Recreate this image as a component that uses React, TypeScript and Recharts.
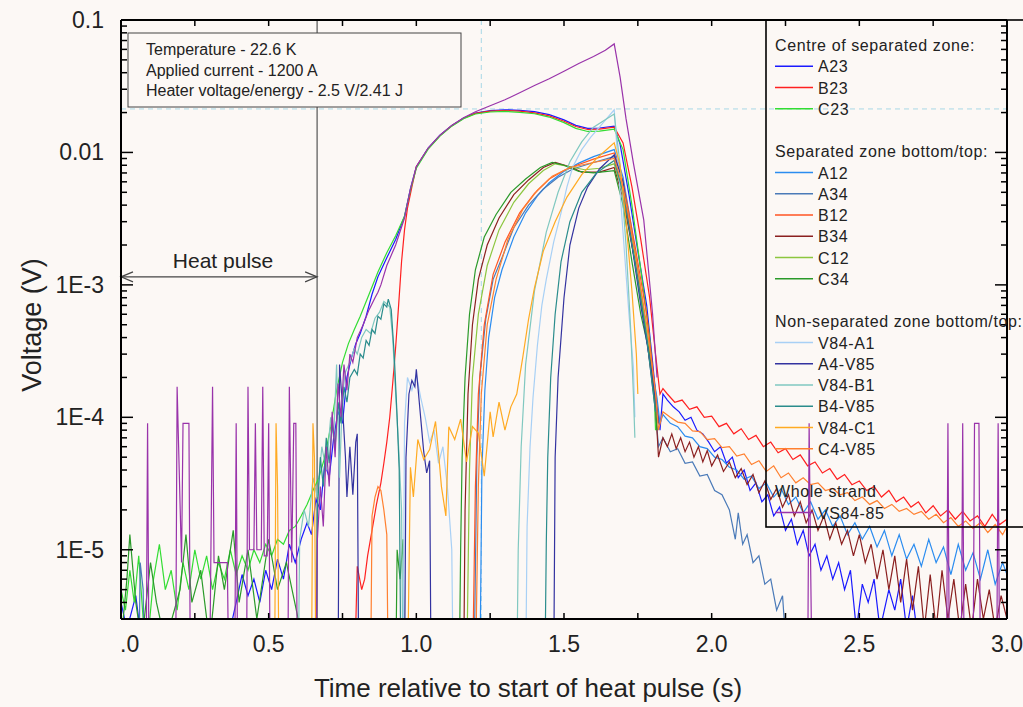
import React from 'react';
import { LineChart, Line, XAxis, YAxis, ReferenceLine } from 'recharts';

type P = [number, number | null];

// ---------- axes / annotations ----------
const X_DOMAIN: [number, number] = [0, 3];
const X_TICKS = [0, 0.25, 0.5, 0.75, 1, 1.25, 1.5, 1.75, 2, 2.25, 2.5, 2.75, 3];
const Y_DOMAIN: [number, number] = [3e-6, 0.1];
const Y_MAJOR = [1e-5, 1e-4, 1e-3, 1e-2, 1e-1];
const Y_MAJOR_LABELS = ['1E-5', '1E-4', '1E-3', '0.01', '0.1'];
const HEAT_PULSE_END = 0.664;
const HEAT_PULSE_LEVEL = 0.00115;
const GUIDE_LEVEL = 0.0213;
const GUIDE_TIME = 1.22;
const INFO_LINES = ['Temperature - 22.6 K', 'Applied current - 1200 A', 'Heater voltage/energy - 2.5 V/2.41 J'];
const X_TITLE = 'Time relative to start of heat pulse (s)';
const Y_TITLE = 'Voltage (V)';

// ---------- series (time s, voltage V; null = break in trace) ----------
const A23: P[] = [
  [0.0, 4e-6], [0.02, 2.5e-6], [0.05, 4.5e-6], [0.07, 2e-6], [0.36, 2e-6], [0.39, 4e-6], [0.41, 6.5e-6], [0.43, 4.5e-6],
  [0.45, 6e-6], [0.47, 4e-6], [0.49, 7e-6], [0.51, 5e-6], [0.53, 8.5e-6], [0.55, 6e-6], [0.57, 1.1e-5], [0.59, 8e-6],
  [0.61, 1.2e-5], [0.63, 1.6e-5], [0.645, 1.3e-5], [0.66, 2.4e-5], [0.675, 2e-5], [0.69, 4.5e-5], [0.705, 3.5e-5],
  [0.72, 7e-5], [0.735, 1.1e-4], [0.75, 9e-5], [0.765, 2e-4], [0.78, 2.8e-4], [0.795, 3.6e-4], [0.81, 4.3e-4],
  [0.83, 5.8e-4], [0.85, 8.5e-4], [0.87, 1.15e-3], [0.9, 1.6e-3], [0.93, 2.2e-3], [0.96, 3.3e-3], [0.98, 5.3e-3],
  [1.0, 7.8e-3], [1.04, 0.0108], [1.08, 0.0135], [1.12, 0.016], [1.16, 0.0182], [1.2, 0.0198], [1.25, 0.0207],
  [1.3, 0.021], [1.35, 0.0208], [1.4, 0.0203], [1.45, 0.0193], [1.5, 0.0176], [1.54, 0.016], [1.58, 0.0152],
  [1.62, 0.0153], [1.67, 0.0158], [1.69, 0.0115], [1.72, 4.8e-3], [1.75, 1.8e-3], [1.78, 7e-4], [1.8, 2.6e-4],
  [1.815, 1.2e-4], [1.825, 8e-5], [1.835, 1.5e-4], [1.85, 1.35e-4], [1.87, 1.2e-4], [1.89, 1.1e-4], [1.91, 9.5e-5],
  [1.93, 1e-4], [1.95, 8e-5], [1.97, 7.5e-5], [1.99, 6.5e-5], [2.01, 5.5e-5], [2.03, 6e-5], [2.05, 4.5e-5],
  [2.07, 5e-5], [2.09, 3.5e-5], [2.11, 4e-5], [2.13, 2.8e-5], [2.15, 3.2e-5], [2.17, 2.3e-5], [2.19, 2.6e-5],
  [2.21, 1.8e-5], [2.23, 2.1e-5], [2.25, 1.4e-5], [2.27, 1.7e-5], [2.29, 1.1e-5], [2.31, 1.4e-5], [2.33, 9e-6],
  [2.35, 1.1e-5], [2.37, 7e-6], [2.39, 9e-6], [2.41, 6e-6], [2.43, 8e-6], [2.45, 5e-6], [2.47, 7e-6], [2.49, 2.5e-6],
  [2.51, 5.5e-6], [2.53, 4e-6], [2.55, 6e-6], [2.57, 2.5e-6], [2.6, 5e-6], [2.62, 3.5e-6], [2.64, 6e-6],
  [2.66, 2.5e-6], [2.68, 4.5e-6], [2.7, 2e-6], [2.74, 2e-6],
];

const B23: P[] = [
  [0.79, 1e-6], [0.8, 7.5e-6], [0.815, 5e-6], [0.825, 6e-6], [0.835, 9e-6], [0.85, 1.4e-5], [0.865, 2.2e-5],
  [0.88, 3.2e-5], [0.89, 4.5e-5], [0.9, 6.5e-5], [0.91, 1e-4], [0.92, 1.8e-4], [0.93, 3.4e-4], [0.94, 7e-4],
  [0.95, 1.5e-3], [0.96, 2.6e-3], [0.97, 3.8e-3], [0.985, 5.5e-3], [1.0, 7.8e-3], [1.04, 0.0107], [1.08, 0.0134],
  [1.12, 0.0159], [1.16, 0.0181], [1.2, 0.0197], [1.25, 0.0205], [1.3, 0.0207], [1.35, 0.0205], [1.4, 0.0199],
  [1.45, 0.0189], [1.5, 0.0172], [1.54, 0.0157], [1.58, 0.0149], [1.62, 0.015], [1.67, 0.0155], [1.7, 0.0118],
  [1.73, 5.5e-3], [1.76, 2.2e-3], [1.79, 8e-4], [1.81, 3e-4], [1.825, 1.5e-4], [1.835, 1.65e-4], [1.85, 1.5e-4],
  [1.875, 1.3e-4], [1.9, 1.35e-4], [1.925, 1.15e-4], [1.95, 1.2e-4], [1.975, 1e-4], [2.0, 1.02e-4], [2.025, 8.5e-5],
  [2.05, 9e-5], [2.075, 7.5e-5], [2.1, 8.2e-5], [2.125, 6.8e-5], [2.15, 7.3e-5], [2.175, 6e-5], [2.2, 6.5e-5],
  [2.225, 5.4e-5], [2.25, 5.8e-5], [2.275, 4.8e-5], [2.3, 5.2e-5], [2.325, 4.3e-5], [2.35, 4.6e-5], [2.375, 3.8e-5],
  [2.4, 4.1e-5], [2.425, 3.4e-5], [2.45, 3.7e-5], [2.475, 3.1e-5], [2.5, 3.3e-5], [2.525, 2.8e-5], [2.55, 3e-5],
  [2.575, 2.5e-5], [2.6, 2.8e-5], [2.625, 2.3e-5], [2.65, 2.5e-5], [2.675, 2.1e-5], [2.7, 2.3e-5], [2.725, 1.9e-5],
  [2.75, 2.15e-5], [2.775, 1.8e-5], [2.8, 2e-5], [2.825, 1.7e-5], [2.85, 1.95e-5], [2.875, 1.65e-5], [2.9, 1.8e-5],
  [2.925, 1.5e-5], [2.95, 1.85e-5], [2.975, 1.55e-5], [3.0, 1.7e-5],
];

const C23: P[] = [
  [0.0, 5e-6], [0.015, 3.5e-6], [0.03, 7e-6], [0.045, 4e-6], [0.06, 9e-6], [0.075, 3e-6], [0.09, 2e-6], [0.11, 6e-6],
  [0.13, 1.1e-5], [0.15, 5e-6], [0.17, 7e-6], [0.19, 3.5e-6], [0.21, 8e-6], [0.23, 5e-6], [0.25, 1e-5], [0.27, 6e-6],
  [0.29, 9e-6], [0.31, 5e-6], [0.33, 8e-6], [0.35, 6e-6], [0.37, 1e-5], [0.39, 6.5e-6], [0.41, 9e-6], [0.43, 7e-6],
  [0.45, 1e-5], [0.47, 8e-6], [0.49, 1.1e-5], [0.51, 9e-6], [0.53, 1.2e-5], [0.55, 1.1e-5], [0.57, 1.4e-5],
  [0.59, 1.5e-5], [0.61, 1.8e-5], [0.63, 2.2e-5], [0.65, 2.8e-5], [0.67, 3.5e-5], [0.69, 5e-5], [0.71, 8.5e-5],
  [0.73, 1.6e-4], [0.75, 2.6e-4], [0.77, 3.6e-4], [0.79, 4.6e-4], [0.81, 5.8e-4], [0.84, 8.5e-4], [0.87, 1.25e-3],
  [0.9, 1.75e-3], [0.93, 2.35e-3], [0.96, 3.3e-3], [0.98, 5.2e-3], [1.0, 7.6e-3], [1.04, 0.0106], [1.08, 0.0133],
  [1.12, 0.0158], [1.16, 0.018], [1.2, 0.0195], [1.25, 0.0202], [1.3, 0.0204], [1.35, 0.0201], [1.4, 0.0196],
  [1.45, 0.0185], [1.5, 0.0168], [1.54, 0.0152], [1.58, 0.0144], [1.62, 0.0145], [1.67, 0.015], [1.7, 0.0105],
  [1.73, 4e-3], [1.76, 1.3e-3], [1.79, 4e-4], [1.805, 1.6e-4], [1.81, 8e-5],
];

const A12: P[] = [
  [1.215, 1e-6], [1.222, 4e-5], [1.232, 1.6e-4], [1.245, 4e-4], [1.265, 8e-4], [1.29, 1.3e-3], [1.33, 2.3e-3],
  [1.37, 3.5e-3], [1.41, 4.7e-3], [1.45, 5.9e-3], [1.5, 7.2e-3], [1.55, 8.3e-3], [1.6, 9.3e-3], [1.67, 0.0105],
  [1.7, 6.5e-3], [1.73, 2.6e-3], [1.76, 9e-4], [1.79, 3e-4], [1.815, 1.4e-4], [1.825, 9e-5], [1.835, 1.05e-4],
  [1.86, 9e-5], [1.885, 8.5e-5], [1.91, 7.2e-5], [1.935, 7e-5], [1.96, 6e-5], [1.985, 5.8e-5], [2.01, 5e-5],
  [2.035, 4.8e-5], [2.06, 4.2e-5], [2.085, 4e-5], [2.11, 3.4e-5], [2.135, 3.6e-5], [2.16, 2.9e-5], [2.185, 3.2e-5],
  [2.21, 2.5e-5], [2.235, 2.9e-5], [2.26, 2.2e-5], [2.285, 2.5e-5], [2.31, 1.9e-5], [2.335, 2.3e-5], [2.36, 1.7e-5],
  [2.385, 2e-5], [2.41, 1.5e-5], [2.435, 1.8e-5], [2.46, 1.3e-5], [2.485, 1.6e-5], [2.51, 1.2e-5], [2.535, 1.5e-5],
  [2.56, 1.05e-5], [2.585, 1.4e-5], [2.61, 9e-6], [2.635, 1.3e-5], [2.66, 8.5e-6], [2.685, 1.1e-5], [2.71, 7.5e-6],
  [2.735, 1.2e-5], [2.76, 8e-6], [2.785, 1.05e-5], [2.81, 6.5e-6], [2.835, 1.1e-5], [2.86, 7e-6], [2.885, 9.5e-6],
  [2.91, 6e-6], [2.935, 1e-5], [2.96, 5.5e-6], [2.985, 8e-6], [3.0, 6.5e-6],
];

const A34: P[] = [
  [0.0, 1e-6], [0.06, 1e-6], [0.065, 8e-6], [0.075, 5e-6], [0.08, 1e-6], [1.195, 1e-6], [1.205, 5e-5], [1.215, 2e-4],
  [1.235, 5.5e-4], [1.26, 1.1e-3], [1.29, 1.6e-3], [1.33, 2.7e-3], [1.38, 4e-3], [1.43, 5.3e-3], [1.48, 6.5e-3],
  [1.53, 7.5e-3], [1.6, 8.4e-3], [1.67, 9.3e-3], [1.7, 5e-3], [1.74, 1.5e-3], [1.78, 4e-4], [1.81, 1.1e-4],
  [1.82, 6e-5], [1.835, 7e-5], [1.86, 5.5e-5], [1.885, 5.8e-5], [1.91, 4.5e-5], [1.935, 4.6e-5], [1.96, 3.6e-5],
  [1.985, 3.7e-5], [2.01, 2.8e-5], [2.035, 2.6e-5], [2.06, 2e-5], [2.08, 1.2e-5], [2.09, 1.9e-5], [2.105, 1.1e-5],
  [2.12, 1.3e-5], [2.14, 8e-6], [2.16, 9e-6], [2.18, 5.5e-6], [2.2, 6e-6], [2.22, 3.5e-6], [2.24, 4.5e-6], [2.26, 1e-6],
];

const B12: P[] = [
  [1.19, 1e-6], [1.2, 3e-5], [1.21, 1.5e-4], [1.23, 5e-4], [1.26, 1.2e-3], [1.3, 2.1e-3], [1.35, 3.5e-3],
  [1.4, 4.9e-3], [1.45, 6.3e-3], [1.5, 7.3e-3], [1.55, 8.1e-3], [1.6, 8.9e-3], [1.67, 9.9e-3], [1.7, 6e-3],
  [1.74, 2e-3], [1.78, 6e-4], [1.81, 1.5e-4], [1.82, 9e-5],
];

const B34: P[] = [
  [1.16, 1e-6], [1.165, 2e-5], [1.175, 1.5e-4], [1.19, 5e-4], [1.21, 1.1e-3], [1.24, 2e-3], [1.28, 3.2e-3],
  [1.33, 4.8e-3], [1.38, 6.2e-3], [1.43, 7.7e-3], [1.47, 8.4e-3], [1.52, 7.8e-3], [1.56, 7.1e-3], [1.62, 7.1e-3],
  [1.67, 7.7e-3], [1.7, 4.5e-3], [1.74, 1.5e-3], [1.78, 4e-4], [1.81, 1.2e-4], [1.82, 5e-5], [1.835, 7e-5],
  [1.85, 6e-5], [1.865, 7.5e-5], [1.88, 5.8e-5], [1.895, 7e-5], [1.91, 5.5e-5], [1.925, 6.5e-5], [1.94, 5e-5],
  [1.955, 6e-5], [1.97, 4.6e-5], [1.985, 5.6e-5], [2.0, 4.3e-5], [2.02, 5.2e-5], [2.04, 3.9e-5], [2.06, 4.6e-5],
  [2.08, 3.5e-5], [2.1, 4.1e-5], [2.12, 3.1e-5], [2.14, 3.7e-5], [2.16, 2.7e-5], [2.18, 3.3e-5], [2.2, 2.4e-5],
  [2.22, 2.9e-5], [2.24, 2.1e-5], [2.26, 2.6e-5], [2.28, 1.8e-5], [2.3, 2.3e-5], [2.32, 1.6e-5], [2.34, 2e-5],
  [2.36, 1.4e-5], [2.38, 1.8e-5], [2.4, 1.2e-5], [2.42, 1.6e-5], [2.44, 1.1e-5], [2.46, 1.4e-5], [2.48, 9e-6],
  [2.5, 1.3e-5], [2.52, 8e-6], [2.54, 1.1e-5], [2.56, 6e-6], [2.58, 1e-5], [2.6, 5e-6], [2.62, 9e-6], [2.64, 4e-6],
  [2.66, 8.5e-6], [2.68, 3.5e-6], [2.7, 7.5e-6], [2.72, 2.5e-6], [2.74, 6.5e-6], [2.76, 2.5e-6], [2.78, 7e-6],
  [2.8, 3e-6], [2.82, 6e-6], [2.84, 2.5e-6], [2.86, 5.5e-6], [2.88, 2.5e-6], [2.9, 6e-6], [2.92, 3e-6],
  [2.94, 5e-6], [2.96, 2.5e-6], [2.98, 4.5e-6], [3.0, 3e-6],
];

const C12: P[] = [
  [1.17, 1e-6], [1.18, 4e-5], [1.19, 2e-4], [1.21, 6e-4], [1.24, 1.4e-3], [1.28, 2.6e-3], [1.33, 4.2e-3],
  [1.38, 5.8e-3], [1.43, 7.3e-3], [1.47, 8.2e-3], [1.52, 7.8e-3], [1.57, 7.4e-3], [1.62, 7.6e-3], [1.67, 8.2e-3],
  [1.71, 4e-3], [1.75, 1.3e-3], [1.79, 3e-4], [1.815, 9e-5],
];

const C34: P[] = [
  [0.0, 2e-6], [0.02, 6e-6], [0.03, 1.3e-5], [0.05, 4e-6], [0.07, 2e-6], [0.1, 8e-6], [0.12, 4e-6], [0.15, 2e-6],
  [0.2, 5e-6], [0.22, 1.3e-5], [0.24, 4e-6], [0.27, 7e-6], [0.3, 2e-6], [0.33, 9e-6], [0.35, 5e-6], [0.38, 1.4e-5],
  [0.4, 4e-6], [0.43, 1e-5], [0.46, 3e-6], [0.5, 1.2e-5], [0.53, 5e-6], [0.56, 8e-6], [0.6, 3e-6], [0.62, 1e-6],
  [0.93, 1e-6], [0.935, 1e-5], [0.945, 6e-6], [0.955, 1.2e-5], [0.96, 1e-6], [1.145, 1e-6], [1.15, 1e-5],
  [1.155, 5e-5], [1.165, 2e-4], [1.18, 6e-4], [1.2, 1.3e-3], [1.23, 2.3e-3], [1.27, 3.4e-3], [1.32, 5e-3],
  [1.37, 6.3e-3], [1.42, 7.7e-3], [1.46, 8.4e-3], [1.5, 8e-3], [1.55, 7.2e-3], [1.6, 7e-3], [1.67, 7.3e-3],
  [1.7, 4e-3], [1.73, 1.5e-3], [1.76, 6e-4], [1.79, 3e-4], [1.81, 1.2e-4], [1.815, 8e-5],
];

const V84_A1: P[] = [
  [0.955, 1e-6], [0.96, 9e-5], [0.97, 2e-4], [0.985, 1.6e-4], [1.0, 2.1e-4], [1.015, 1.4e-4], [1.03, 1e-4],
  [1.045, 6.5e-5], [1.06, 8e-5], [1.075, 4.5e-5], [1.09, 6e-5], [1.105, 3e-5], [1.12, 1e-5], [1.125, 1e-6],
  [1.37, 1e-6], [1.375, 1.5e-5], [1.385, 6e-5], [1.395, 1.4e-4], [1.41, 3.5e-4], [1.425, 7e-4], [1.44, 1.1e-3],
  [1.465, 2.1e-3], [1.49, 3.5e-3], [1.51, 5.5e-3], [1.53, 7.8e-3], [1.56, 0.0105], [1.59, 0.013], [1.63, 0.0165],
  [1.67, 0.021], [1.69, 5e-3], [1.72, 6e-4], [1.735, 2.4e-4], [1.74, 1e-4],
];

const A4_V85: P[] = [
  [0.735, 1e-6], [0.74, 2.5e-4], [0.75, 1.2e-4], [0.76, 5e-5], [0.765, 2.5e-5], [0.775, 6e-5], [0.785, 2.6e-5],
  [0.795, 6.5e-5], [0.8, 7.5e-5], [0.805, 1e-6], [0.96, 1e-6], [0.965, 5e-5], [0.975, 1.5e-4], [0.985, 1.9e-4],
  [0.995, 1.7e-4], [1.0, 2.3e-4], [1.01, 1.3e-4], [1.02, 7.3e-5], [1.025, 5.5e-5], [1.035, 3.8e-5], [1.045, 4.7e-5],
  [1.05, 1e-6], [1.465, 1e-6], [1.47, 5e-5], [1.48, 2e-4], [1.5, 8e-4], [1.52, 2e-3], [1.55, 3.8e-3], [1.58, 5.5e-3],
  [1.62, 7.5e-3], [1.67, 9.6e-3], [1.7, 6e-3], [1.73, 2e-3], [1.76, 7e-4], [1.8, 2e-4], [1.82, 9e-5],
];

const V84_B1: P[] = [
  [0.6, 1e-6], [0.605, 1.2e-5], [0.62, 2e-5], [0.635, 1.5e-5], [0.65, 3.5e-5], [0.665, 2.5e-5], [0.68, 6e-5],
  [0.695, 4e-5], [0.71, 1e-4], [0.72, 7e-5], [0.73, 2.5e-4], [0.74, 3.5e-5], [0.75, 1.5e-4], [0.76, 2.2e-4],
  [0.775, 2.6e-4], [0.79, 3.3e-4], [0.8, 3e-4], [0.815, 4e-4], [0.83, 4.6e-4], [0.845, 4.3e-4], [0.86, 5.6e-4],
  [0.875, 6.2e-4], [0.89, 7.5e-4], [0.9, 7.2e-4], [0.91, 6.8e-4], [0.92, 4e-4], [0.93, 1.5e-4], [0.94, 6e-5],
  [0.95, 2e-5], [0.955, 1e-6], [1.34, 1e-6], [1.345, 1e-5], [1.355, 6e-5], [1.37, 2.5e-4], [1.4, 9e-4],
  [1.44, 2.5e-3], [1.48, 5e-3], [1.52, 8.5e-3], [1.56, 0.012], [1.6, 0.0155], [1.67, 0.0195], [1.69, 8e-3],
  [1.71, 2e-3], [1.725, 5e-4], [1.735, 1.5e-4], [1.74, 7e-5],
];

const B4_V85: P[] = [
  [0.66, 1e-6], [0.665, 2e-5], [0.675, 5e-5], [0.685, 3e-5], [0.695, 7e-5], [0.705, 4.5e-5], [0.715, 9e-5],
  [0.725, 6e-5], [0.735, 1.3e-4], [0.745, 9e-5], [0.755, 1.7e-4], [0.765, 1.3e-4], [0.775, 2e-4], [0.79, 2.3e-4],
  [0.8, 2.1e-4], [0.81, 3e-4], [0.82, 2.8e-4], [0.83, 3.8e-4], [0.84, 3.5e-4], [0.85, 4.6e-4], [0.86, 4.3e-4],
  [0.87, 5.8e-4], [0.88, 5.5e-4], [0.89, 7.2e-4], [0.9, 6.8e-4], [0.905, 7.8e-4], [0.915, 6.5e-4], [0.925, 3e-4],
  [0.935, 1e-4], [0.942, 4e-5], [0.948, 1e-6], [1.435, 1e-6], [1.44, 1.1e-5], [1.445, 5e-5], [1.455, 2e-4],
  [1.47, 6e-4], [1.49, 1.5e-3], [1.52, 3e-3], [1.56, 5e-3], [1.61, 7e-3], [1.67, 8.7e-3], [1.7, 5e-3],
  [1.74, 1.5e-3], [1.78, 4e-4], [1.81, 1.1e-4],
];

const V84_C1: P[] = [
  [0.52, 1e-6], [0.525, 9e-5], [0.53, 3e-5], [0.535, 1e-6], [0.645, 1e-6], [0.65, 9e-5], [0.655, 5e-5], [0.66, 1e-6],
  [0.97, 1e-6], [0.98, 4.2e-5], [0.99, 2.5e-5], [1.005, 6.8e-5], [1.025, 4.8e-5], [1.045, 5.7e-5], [1.065, 9.3e-5],
  [1.075, 5.4e-5], [1.085, 3e-5], [1.1, 1.8e-5], [1.11, 8.5e-5], [1.13, 6.8e-5], [1.15, 9.7e-5], [1.17, 4.6e-5],
  [1.19, 8.5e-5], [1.21, 7.6e-5], [1.23, 3.6e-5], [1.25, 1.1e-4], [1.26, 7.1e-5], [1.28, 1.3e-4], [1.3, 8e-5],
  [1.32, 1.2e-4], [1.34, 1.5e-4], [1.36, 2.8e-4], [1.38, 5.5e-4], [1.4, 9.5e-4], [1.43, 1.8e-3], [1.47, 3e-3],
  [1.51, 4.6e-3], [1.56, 6.8e-3], [1.61, 9e-3], [1.67, 0.0118], [1.69, 8e-3], [1.71, 3e-3], [1.73, 9e-4],
  [1.745, 3e-4], [1.75, 1.5e-4],
];

const C4_V85: P[] = [
  [0.845, 1e-6], [0.85, 1.8e-5], [0.86, 2.5e-5], [0.87, 3e-5], [0.88, 2.8e-5], [0.89, 2e-5], [0.9, 1.3e-5],
  [0.905, 1e-6], [1.2, 1e-6], [1.21, 3e-5], [1.22, 1.5e-4], [1.24, 5e-4], [1.27, 1.1e-3], [1.31, 2.2e-3],
  [1.36, 3.7e-3], [1.41, 5.2e-3], [1.46, 6.6e-3], [1.52, 7.7e-3], [1.6, 8.4e-3], [1.67, 9e-3], [1.7, 5.5e-3],
  [1.74, 1.8e-3], [1.78, 5e-4], [1.81, 1.5e-4], [1.82, 8e-5], [1.835, 1.1e-4], [1.86, 1e-4], [1.885, 9.2e-5],
  [1.91, 9e-5], [1.935, 7.9e-5], [1.96, 7.8e-5], [1.985, 6.8e-5], [2.01, 6.9e-5], [2.035, 5.9e-5], [2.06, 6e-5],
  [2.085, 5.1e-5], [2.11, 5.3e-5], [2.135, 4.4e-5], [2.16, 4.7e-5], [2.185, 3.9e-5], [2.21, 4.3e-5], [2.235, 3.5e-5],
  [2.26, 3.8e-5], [2.285, 3.2e-5], [2.31, 3.5e-5], [2.335, 3.1e-5], [2.36, 3.2e-5], [2.385, 2.8e-5], [2.41, 2.9e-5],
  [2.435, 2.6e-5], [2.46, 2.7e-5], [2.485, 2.35e-5], [2.51, 2.5e-5], [2.535, 2.2e-5], [2.56, 2.35e-5], [2.585, 2.05e-5],
  [2.61, 2.2e-5], [2.635, 1.95e-5], [2.66, 2.05e-5], [2.685, 1.85e-5], [2.71, 1.95e-5], [2.735, 1.7e-5], [2.76, 1.85e-5],
  [2.785, 1.6e-5], [2.81, 1.75e-5], [2.835, 1.5e-5], [2.86, 1.65e-5], [2.885, 1.45e-5], [2.91, 1.6e-5],
  [2.935, 1.35e-5], [2.96, 1.55e-5], [2.985, 1.3e-5], [3.0, 1.5e-5],
];

const VS84_85: P[] = [
  [0.0, 1e-6], [0.085, 1e-6], [0.09, 9e-5], [0.095, 1e-6], [0.185, 1e-6], [0.19, 1.7e-4], [0.205, 8e-6],
  [0.21, 9e-5], [0.23, 9e-5], [0.235, 1e-6], [0.3, 1e-6], [0.31, 1.7e-4], [0.315, 8e-6], [0.36, 8e-6], [0.365, 1e-6],
  [0.385, 1e-6], [0.39, 9e-5], [0.395, 1e-6], [0.425, 1e-6], [0.43, 1.7e-4], [0.435, 1e-5], [0.45, 1e-5],
  [0.455, 9e-5], [0.46, 1e-5], [0.475, 1e-5], [0.48, 1.7e-4], [0.485, 9e-6], [0.495, 9e-6], [0.5, 9e-5],
  [0.505, 1e-6], [0.565, 1e-6], [0.57, 1.7e-4], [0.578, 8e-6], [0.585, 9e-5], [0.592, 9e-5], [0.597, 1e-6],
  [0.66, 1e-6], [0.665, 1.2e-5], [0.675, 3e-5], [0.685, 1.5e-5], [0.695, 6e-5], [0.705, 3e-5], [0.715, 1.1e-4],
  [0.725, 5e-5], [0.735, 1.8e-4], [0.745, 1e-4], [0.755, 2.5e-4], [0.765, 1.6e-4], [0.775, 3e-4], [0.785, 2.6e-4],
  [0.8, 4e-4], [0.82, 5e-4], [0.84, 6.5e-4], [0.86, 8e-4], [0.87, 8.8e-4], [0.88, 1e-3], [0.9, 1.4e-3], [0.93, 2e-3],
  [0.96, 3.2e-3], [0.98, 5.3e-3], [1.0, 7.8e-3], [1.04, 0.0108], [1.08, 0.0135], [1.12, 0.016], [1.16, 0.0183],
  [1.2, 0.0203], [1.25, 0.0225], [1.3, 0.025], [1.35, 0.0282], [1.4, 0.032], [1.45, 0.036], [1.5, 0.041],
  [1.55, 0.047], [1.6, 0.053], [1.64, 0.059], [1.67, 0.066], [1.69, 0.037], [1.71, 0.018], [1.735, 8.3e-3],
  [1.77, 3.1e-3], [1.8, 6e-4], [1.815, 2e-4], [1.82, null], [2.325, 1e-6], [2.33, 9e-5], [2.335, 8e-6],
  [2.34, 1e-6], [2.795, 1e-6], [2.8, 9e-5], [2.805, 1e-6], [2.845, 1e-6], [2.85, 9e-5], [2.855, 1e-6],
  [2.885, 1e-6], [2.89, 9e-5], [2.905, 9e-5], [2.91, 1e-6], [2.965, 1e-6], [2.97, 9e-5], [2.975, 1e-6],
];

const SERIES: { name: string; color: string; pts: P[] }[] = [
  { name: 'A23', color: '#1a1aff', pts: A23 },
  { name: 'B23', color: '#ff2020', pts: B23 },
  { name: 'C23', color: '#33dd33', pts: C23 },
  { name: 'A12', color: '#2a8cf0', pts: A12 },
  { name: 'A34', color: '#4a7ab8', pts: A34 },
  { name: 'B12', color: '#ff5522', pts: B12 },
  { name: 'B34', color: '#8b2020', pts: B34 },
  { name: 'C12', color: '#8cc63f', pts: C12 },
  { name: 'C34', color: '#2a9a2a', pts: C34 },
  { name: 'V84-A1', color: '#a8d0f5', pts: V84_A1 },
  { name: 'A4-V85', color: '#3333a0', pts: A4_V85 },
  { name: 'V84-B1', color: '#80c8c0', pts: V84_B1 },
  { name: 'B4-V85', color: '#2a8c8c', pts: B4_V85 },
  { name: 'V84-C1', color: '#ffaa22', pts: V84_C1 },
  { name: 'C4-V85', color: '#ff8030', pts: C4_V85 },
  { name: 'VS84-85', color: '#9933aa', pts: VS84_85 },
];

const LEGEND_GROUPS = [
  { title: 'Centre of separated zone:', keys: ['A23', 'B23', 'C23'] },
  { title: 'Separated zone bottom/top:', keys: ['A12', 'A34', 'B12', 'B34', 'C12', 'C34'] },
  { title: 'Non-separated zone bottom/top:', keys: ['V84-A1', 'A4-V85', 'V84-B1', 'B4-V85', 'V84-C1', 'C4-V85'] },
  { title: 'Whole strand', keys: ['VS84-85'] },
];

// ---------- layout ----------
const W = 1023;
const H = 707;
const PL = 121;
const PR = 1007;
const PT = 20;
const PB = 619;
const FONT = '"Liberation Sans", Arial, sans-serif';
const BG = '#fcf8f5';

const Y_TICKS: number[] = (() => {
  const out: number[] = [];
  for (let e = -6; e <= -2; e++) {
    for (let m = 1; m <= 9; m++) {
      const v = m * Math.pow(10, e);
      if (v >= 2.99e-6 && v <= 0.1001) out.push(v);
    }
  }
  out.push(0.1);
  return out;
})();

const majorIndex = (v: number) => Y_MAJOR.findIndex((m) => Math.abs(Math.log10(v) - Math.log10(m)) < 1e-6);

const LeftTick = (props: any) => {
  const { y, payload } = props;
  const idx = majorIndex(payload.value);
  const len = idx >= 0 ? 12 : 6;
  return (
    <g>
      <line x1={PL} x2={PL + len} y1={y} y2={y} stroke="#000" strokeWidth={1.5} />
      {idx >= 0 && (
        <text x={104} y={y + 8} textAnchor="end" fontSize={23} fontFamily={FONT} fill="#222">
          {Y_MAJOR_LABELS[idx]}
        </text>
      )}
    </g>
  );
};

const RightTick = (props: any) => {
  const { y, payload } = props;
  const idx = majorIndex(payload.value);
  const len = idx >= 0 ? 12 : 6;
  return <line x1={PR} x2={PR - len} y1={y} y2={y} stroke="#000" strokeWidth={1.5} />;
};

const BottomTick = (props: any) => {
  const { x, payload } = props;
  const v: number = payload.value;
  const isLabel = Math.abs(v * 2 - Math.round(v * 2)) < 1e-9;
  return (
    <g>
      <line x1={x} x2={x} y1={PB} y2={PB - 6} stroke="#000" strokeWidth={1.5} />
      {isLabel && (
        <text
          x={v === 0 ? x - 1 : x}
          y={652}
          textAnchor={v === 0 ? 'start' : 'middle'}
          fontSize={23}
          fontFamily={FONT}
          fill="#222"
        >
          {v === 0 ? '.0' : v.toFixed(1)}
        </text>
      )}
    </g>
  );
};

const TopTick = (props: any) => {
  const { x } = props;
  return <line x1={x} x2={x} y1={PT} y2={PT + 6} stroke="#000" strokeWidth={1.5} />;
};

const HeatPulseShape = (props: any) => {
  const { x1, y1, x2 } = props;
  const c = '#444';
  return (
    <g>
      <line x1={x1} y1={y1} x2={x2} y2={y1} stroke={c} strokeWidth={1.2} />
      <polyline points={`${x1 + 12},${y1 - 5} ${x1},${y1} ${x1 + 12},${y1 + 5}`} fill="none" stroke={c} strokeWidth={1.2} />
      <polyline points={`${x2 - 12},${y1 - 5} ${x2},${y1} ${x2 - 12},${y1 + 5}`} fill="none" stroke={c} strokeWidth={1.2} />
      <text x={(x1 + x2) / 2 + 4} y={y1 - 9} textAnchor="middle" fontSize={21} fontFamily={FONT} fill="#222">
        Heat pulse
      </text>
    </g>
  );
};

const LEGEND_ROW0 = 45;
const LEGEND_PITCH = 21.25;

export default function App() {
  const colorOf = (k: string) => SERIES.find((s) => s.name === k)!.color;
  const legendRows: { y: number; title?: string; key?: string }[] = [];
  let row = 0;
  LEGEND_GROUPS.forEach((g, gi) => {
    legendRows.push({ y: LEGEND_ROW0 + row * LEGEND_PITCH, title: g.title });
    row++;
    g.keys.forEach((k) => {
      legendRows.push({ y: LEGEND_ROW0 + row * LEGEND_PITCH, key: k });
      row++;
    });
    if (gi < LEGEND_GROUPS.length - 1) row++;
  });

  return (
    <div style={{ position: 'absolute', left: 0, top: 0, width: W, height: H, overflow: 'hidden', background: BG, fontFamily: FONT }}>
      <LineChart width={W} height={H} margin={{ top: PT - 1, right: W - PR - 1, bottom: 0, left: 0 }}>
        <XAxis
          xAxisId="b"
          type="number"
          dataKey="t"
          domain={X_DOMAIN}
          ticks={X_TICKS}
          interval={0}
          allowDataOverflow
          height={H - PB}
          axisLine={{ stroke: '#000', strokeWidth: 2 }}
          tickLine={false}
          tick={BottomTick}
        />
        <XAxis
          xAxisId="top"
          orientation="top"
          type="number"
          dataKey="t"
          domain={X_DOMAIN}
          ticks={X_TICKS}
          interval={0}
          allowDataOverflow
          height={1}
          axisLine={{ stroke: '#000', strokeWidth: 2 }}
          tickLine={false}
          tick={TopTick}
        />
        <YAxis
          yAxisId="l"
          scale="log"
          type="number"
          domain={Y_DOMAIN}
          ticks={Y_TICKS}
          interval={0}
          allowDataOverflow
          width={PL}
          axisLine={{ stroke: '#000', strokeWidth: 2 }}
          tickLine={false}
          tick={LeftTick}
        />
        <YAxis
          yAxisId="r"
          orientation="right"
          scale="log"
          type="number"
          domain={Y_DOMAIN}
          ticks={Y_TICKS}
          interval={0}
          allowDataOverflow
          width={1}
          axisLine={{ stroke: '#000', strokeWidth: 2 }}
          tickLine={false}
          tick={RightTick}
        />
        <ReferenceLine xAxisId="b" yAxisId="l" y={GUIDE_LEVEL} stroke="#a8d8e6" strokeDasharray="5 4" strokeWidth={1} />
        <ReferenceLine xAxisId="b" yAxisId="l" x={GUIDE_TIME} stroke="#a8d8e6" strokeDasharray="5 4" strokeWidth={1} />
        <ReferenceLine xAxisId="b" yAxisId="l" x={HEAT_PULSE_END} stroke="#555" strokeWidth={1.2} />
        <ReferenceLine
          xAxisId="b"
          yAxisId="l"
          segment={[{ x: 0, y: HEAT_PULSE_LEVEL }, { x: HEAT_PULSE_END, y: HEAT_PULSE_LEVEL }]}
          shape={HeatPulseShape}
        />
        {SERIES.map((s) => (
          <Line
            key={s.name}
            xAxisId="b"
            yAxisId="l"
            name={s.name}
            data={s.pts.map(([t, v]) => ({ t, v }))}
            dataKey="v"
            type="linear"
            stroke={s.color}
            strokeWidth={1.2}
            dot={false}
            activeDot={false}
            connectNulls={false}
            isAnimationActive={false}
          />
        ))}
      </LineChart>

      <svg width={W} height={H} style={{ position: 'absolute', left: 0, top: 0, pointerEvents: 'none' }}>
        {/* info box */}
        <rect x={128} y={33} width={333} height={74} fill={BG} stroke="#444" strokeWidth={1} />
        {INFO_LINES.map((t, i) => (
          <text key={t} x={146} y={55 + i * 20.5} fontSize={16} fontFamily={FONT} fill="#222">
            {t}
          </text>
        ))}

        {/* legend */}
        <rect x={766} y={20} width={300} height={507} fill="none" stroke="#000" strokeWidth={1.6} />
        {legendRows.map((r, i) =>
          r.title ? (
            <text key={i} x={775} y={r.y + 6} fontSize={16} letterSpacing={0.6} fontFamily={FONT} fill="#222">
              {r.title}
            </text>
          ) : (
            <g key={i}>
              <line x1={775} x2={813} y1={r.y} y2={r.y} stroke={colorOf(r.key!)} strokeWidth={1.5} />
              <text x={818} y={r.y + 6} fontSize={16} letterSpacing={0.6} fontFamily={FONT} fill="#222">
                {r.key}
              </text>
            </g>
          )
        )}

        {/* axis titles */}
        <text x={528} y={697} textAnchor="middle" fontSize={26} fontFamily={FONT} fill="#222">
          {X_TITLE}
        </text>
        <text
          x={0}
          y={0}
          transform={`translate(41, 325) rotate(-90)`}
          textAnchor="middle"
          fontSize={27}
          fontFamily={FONT}
          fill="#222"
        >
          {Y_TITLE}
        </text>
      </svg>
    </div>
  );
}
